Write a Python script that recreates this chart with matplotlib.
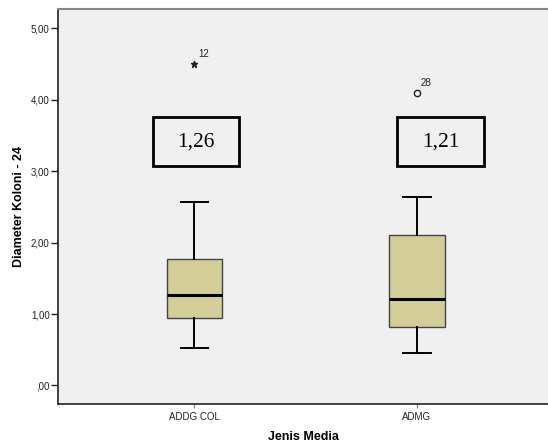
import matplotlib
matplotlib.use("Agg")
import matplotlib.pyplot as plt
from matplotlib.patches import Rectangle
from matplotlib.ticker import FuncFormatter

plt.rcParams['font.family'] = ['Liberation Sans', 'DejaVu Sans']

# box summaries per medium
groups = ["ADDG COL", "ADMG"]
lower_whisker = [0.52, 0.46]
q1 = [0.94, 0.82]
median = [1.26, 1.21]
q3 = [1.77, 2.10]
upper_whisker = [2.57, 2.64]
outlier_value = [4.50, 4.10]
outlier_case = ["12", "28"]
outlier_marker = ["*", "o"]

dpi = 100
fig = plt.figure(figsize=(548 / dpi, 443 / dpi), dpi=dpi)
fig.patch.set_facecolor("white")
ax = fig.add_axes([58 / 548, 39 / 443, 490 / 548, 395 / 443])
ax.set_facecolor("#f0f0f0")

pos = [1, 2]
stats = []
for i, g in enumerate(groups):
    stats.append(dict(label=g, whislo=lower_whisker[i], q1=q1[i], med=median[i],
                      q3=q3[i], whishi=upper_whisker[i], fliers=[]))

ax.bxp(stats, positions=pos, widths=0.25, patch_artist=True, showfliers=False,
       boxprops=dict(facecolor="#d3ce97", edgecolor="#444444", linewidth=1.0),
       medianprops=dict(color="black", linewidth=2.2),
       whiskerprops=dict(color="black", linewidth=1.4),
       capprops=dict(color="black", linewidth=1.4),
       capwidths=0.125)

for p, v, c, m in zip(pos, outlier_value, outlier_case, outlier_marker):
    if m == "*":
        ax.plot(p, v, marker="*", ms=5, color="#222222", mec="#222222", ls="none")
    else:
        ax.plot(p, v, marker="o", ms=4.5, mfc="none", mec="#222222", mew=1.0, ls="none")
    ax.annotate(c, (p, v), xytext=(2.5, 3.5), textcoords="offset points",
                fontsize=7, color="#222222", ha="left", va="bottom")

# median annotations in framed boxes
box_x = [1.007, 2.107]
box_w = 0.389
box_y0, box_h = 3.075, 0.678
for bx, med in zip(box_x, median):
    ax.add_patch(Rectangle((bx - box_w / 2, box_y0), box_w, box_h, fill=False,
                           edgecolor="black", linewidth=2.0, zorder=3))
    ax.text(bx, box_y0 + box_h / 2, f"{med:.2f}".replace(".", ","),
            family=["Liberation Serif", "DejaVu Serif"], fontsize=15.5,
            ha="center", va="center", zorder=4)

ax.set_xlim(0.3865, 2.589)
ax.set_ylim(-0.26, 5.27)
ax.set_yticks([0, 1, 2, 3, 4, 5])


def comma_fmt(v, _):
    s = f"{v:.2f}".replace(".", ",")
    return s[1:] if s.startswith("0") else s


ax.yaxis.set_major_formatter(FuncFormatter(comma_fmt))
ax.set_xticks(pos)
ax.set_xticklabels(groups)
ax.tick_params(axis="y", direction="out", length=5, width=1, color="#222222",
               labelsize=7, labelcolor="#222222", pad=1)
ax.tick_params(axis="x", direction="out", length=3, width=0.8, color="#777777",
               labelsize=7, labelcolor="#222222", pad=3)

ax.spines["right"].set_visible(False)
ax.spines["top"].set_color("#888888")
ax.spines["top"].set_linewidth(1.5)
ax.spines["left"].set_color("#222222")
ax.spines["bottom"].set_color("#222222")
ax.spines["left"].set_linewidth(1.2)
ax.spines["bottom"].set_linewidth(1.2)

ax.set_ylabel("Diameter Koloni - 24", fontsize=9, fontweight="bold", labelpad=4)
ax.set_xlabel("Jenis Media", fontsize=9, fontweight="bold", labelpad=6)

fig.savefig("out.png", dpi=dpi)
